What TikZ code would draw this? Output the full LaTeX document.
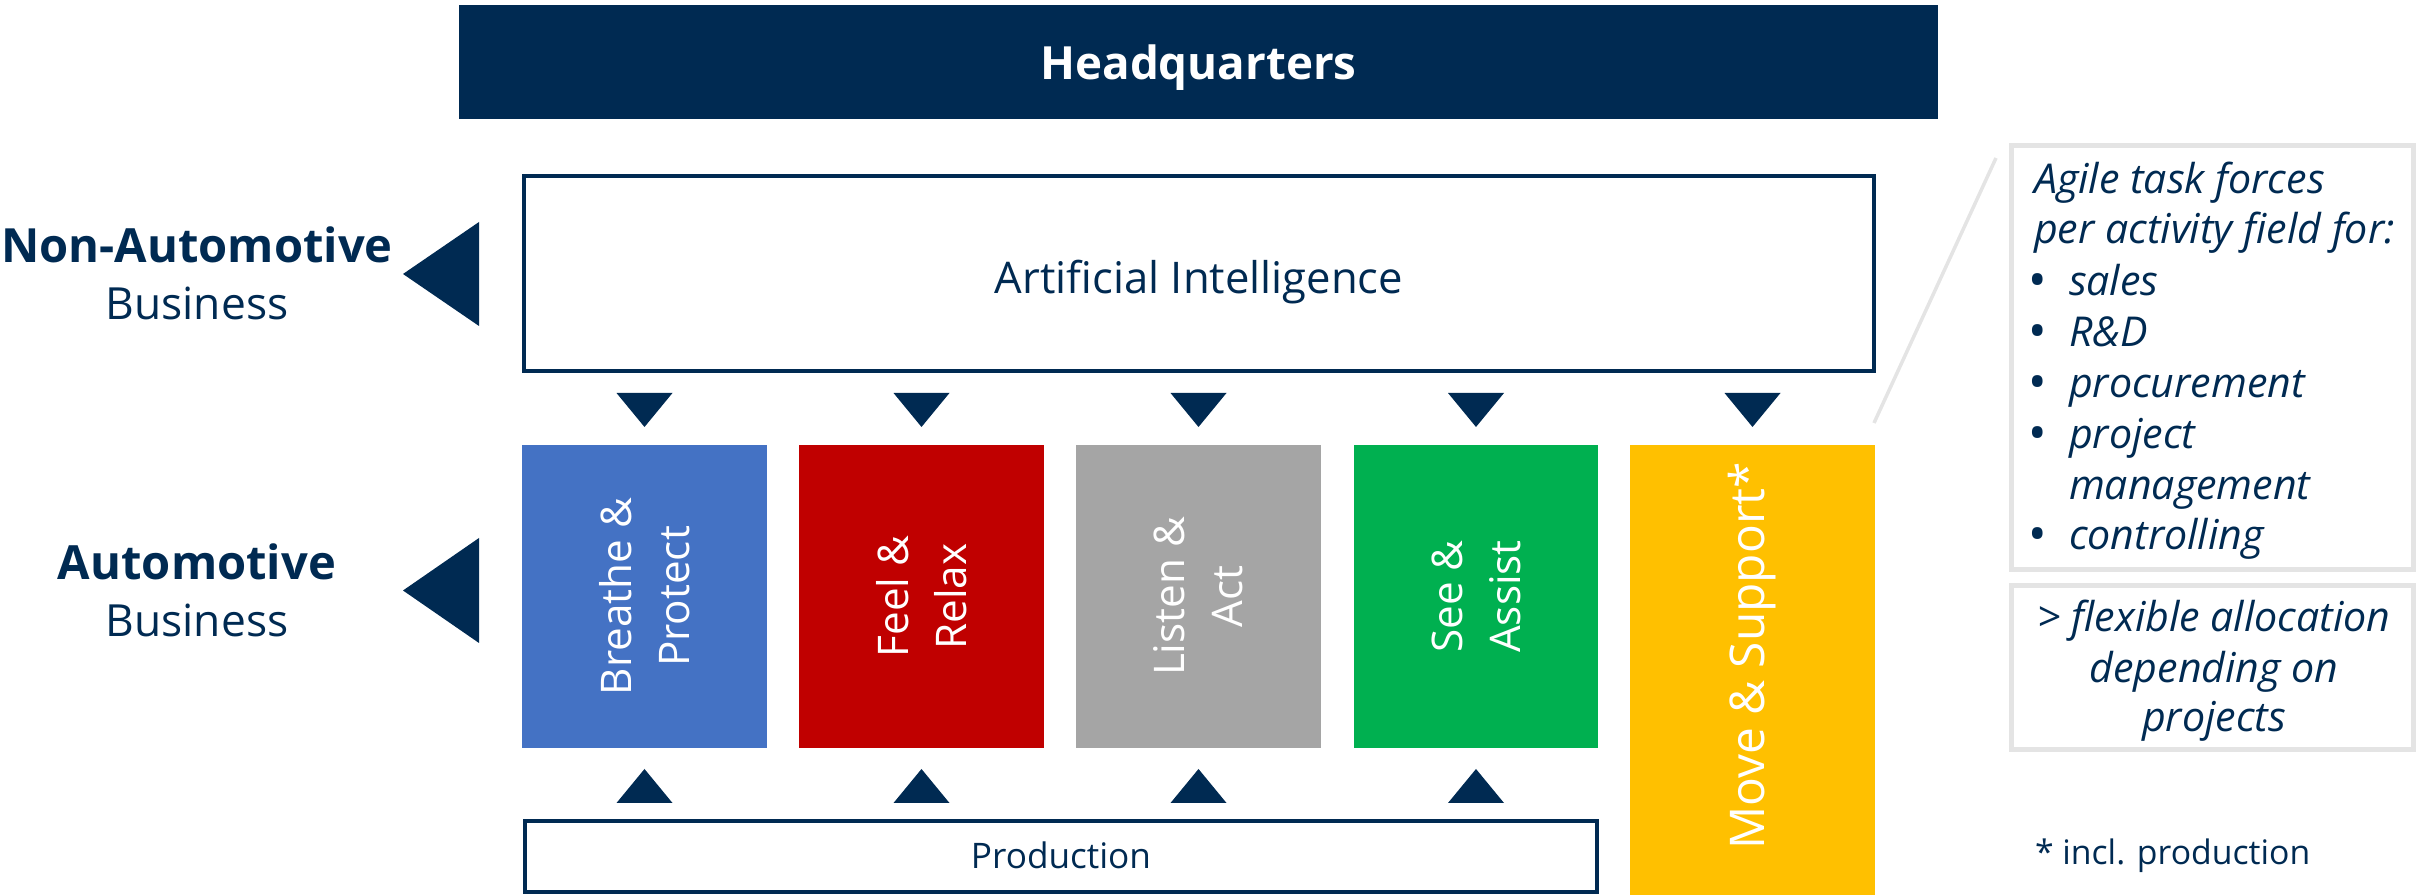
\documentclass[tikz,border=0pt]{standalone}
\usepackage{fontspec}
\setmainfont{Open Sans}
\definecolor{navy}{RGB}{0,42,82}
\definecolor{cblue}{RGB}{68,114,196}
\definecolor{cred}{RGB}{192,0,0}
\definecolor{cgray}{RGB}{165,165,165}
\definecolor{cgreen}{RGB}{0,176,80}
\definecolor{cyellow}{RGB}{255,192,0}
\definecolor{lgray}{RGB}{228,228,228}
\newcommand{\fs}[2]{\fontsize{#1}{#2}\selectfont}
\begin{document}
\begin{tikzpicture}[x=0.01cm,y=-0.01cm,
  plain/.style={inner sep=0pt, outer sep=0pt},
  framebox/.style={plain, draw=navy, line width=1.14pt, fill=white, text=navy},
  fieldbox/.style={plain, minimum width=2.44cm, minimum height=3.03cm},
  vlabel/.style={rotate=90, text=white, align=center, font=\fs{12}{16.5}},
  tri/.style={fill=navy},
  side/.style={plain, text=navy, font=\fs{13.4}{16}},
  panel/.style={plain, draw=lgray, line width=1.4pt},
  ptext/.style={plain, text=navy, font=\itshape\fs{11.7}{14.5}, anchor=base west},
  bul/.style={plain, text=navy, font=\fs{14}{14.5}, anchor=base}
]
\useasboundingbox (0,0) rectangle (2417,895);

% Headquarters
\node[plain, fill=navy, minimum width=14.79cm, minimum height=1.14cm] (hq) at (1198.5,62) {};
\node[plain, text=white, font=\bfseries\fs{13}{15}, anchor=base] (hqt) at (1198.5,80) {Headquarters};

% Artificial Intelligence
\node[framebox, minimum width=13.50cm, minimum height=1.95cm] (ai) at (1199,273.5) {};
\node[plain, text=navy, font=\fs{12.4}{15}, anchor=base] (ait) at (1199,294) {Artificial Intelligence};

% Fields
\node[fieldbox, fill=cblue] (f1) at (644.5,596.5) {};
\node[fieldbox, fill=cred] (f2) at (921.5,596.5) {};
\node[fieldbox, fill=cgray] (f3) at (1198.5,596.5) {};
\node[fieldbox, fill=cgreen] (f4) at (1476,596.5) {};
\node[plain, fill=cyellow, minimum width=2.44cm, minimum height=4.52cm] (f5) at (1752.5,671) {};

\node[vlabel] (l1) at (f1.center) {Breathe \&\\Protect};
\node[vlabel] (l2) at (f2.center) {Feel \&\\Relax};
\node[vlabel] (l3) at (f3.center) {Listen \&\\Act};
\node[vlabel] (l4) at (f4.center) {See \&\\Assist};
\node[vlabel, font=\fs{13.6}{16}] (l5) at (1752.5,656) {Move \& Support*};

% Production
\node[framebox, minimum width=10.72cm, minimum height=0.71cm] (prod) at (1061,856.5) {};
\node[plain, text=navy, font=\fs{10}{12}, anchor=base] (prodt) at (1061,869) {Production};

% down triangles
\foreach \cx in {644.5,921.5,1198.5,1476,1752.5}
  \fill[tri] (\cx-28,393) -- (\cx+28,393) -- (\cx,427) -- cycle;
% up triangles
\foreach \cx in {644.5,921.5,1198.5,1476}
  \fill[tri] (\cx-28,803) -- (\cx+28,803) -- (\cx,769) -- cycle;

% left triangles
\fill[tri] (479,222) -- (479,326) -- (403,274) -- cycle;
\fill[tri] (479,538) -- (479,643) -- (403,590.5) -- cycle;

% side labels
\node[side, font=\bfseries\fs{13.4}{16}, anchor=base] (na1) at (197,263) {Non-Automotive};
\node[side, font=\fs{12.6}{16}, anchor=base] (na2) at (197,320) {Business};
\node[side, font=\bfseries\fs{13.4}{16}, anchor=base] (au1) at (197,580) {Automotive};
\node[side, font=\fs{12.6}{16}, anchor=base] (au2) at (197,637) {Business};

% right panel
\node[panel, minimum width=4.02cm, minimum height=4.24cm] (pan1) at (2212.5,357.5) {};
\node[panel, minimum width=4.02cm, minimum height=1.64cm] (pan2) at (2212.5,667.5) {};
\coordinate (dl) at (1874,423);
\coordinate (du) at (1996,158);
\draw[lgray, line width=1pt] (dl) -- (du);

\node[ptext] (t1) at (2034,194) {Agile task forces};
\node[ptext] (t2) at (2034,244) {per activity field for:};
\node[bul] (b1) at (2038,298) {\textbullet};
\node[ptext] (t3) at (2069,296) {sales};
\node[bul] (b2) at (2038,349) {\textbullet};
\node[ptext] (t4) at (2069,347) {R\&D};
\node[bul] (b3) at (2038,400) {\textbullet};
\node[ptext] (t5) at (2069,398) {procurement};
\node[bul] (b4) at (2038,451) {\textbullet};
\node[ptext] (t6) at (2069,449) {project};
\node[ptext] (t7) at (2069,500) {management};
\node[bul] (b5) at (2038,552) {\textbullet};
\node[ptext] (t8) at (2069,550) {controlling};

\node[ptext, anchor=base] (s1) at (2214,632) {> flexible allocation};
\node[ptext, anchor=base] (s2) at (2214,683) {depending on};
\node[ptext, anchor=base] (s3) at (2214,732) {projects};

\node[plain, text=navy, font=\fs{9.6}{12}, anchor=base west] (foot) at (2035,865) {* incl. production};
\end{tikzpicture}
\end{document}
